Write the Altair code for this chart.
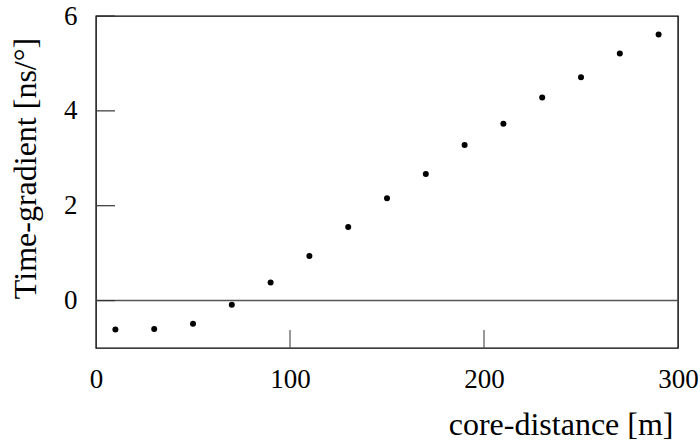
import altair as alt
import pandas as pd

core_distance = [10, 30, 50, 70, 90, 110, 130, 150, 170, 190, 210, 230, 250, 270, 290]
time_gradient = [-0.61, -0.60, -0.49, -0.09, 0.38, 0.94, 1.55, 2.16, 2.67, 3.28, 3.73, 4.28, 4.71, 5.21, 5.61]
x_ticks = [100, 200]
y_ticks = [0, 2, 4, 6]

FONT = "Liberation Serif"
W, H = 582, 332

pts = pd.DataFrame({"d": core_distance, "g": time_gradient})
xt = pd.DataFrame({"d": x_ticks})
yt = pd.DataFrame({"g": y_ticks})
zero = pd.DataFrame({"g": [0]})

xscale = alt.Scale(domain=[0, 300], nice=False, zero=False)
yscale = alt.Scale(domain=[-1, 6], nice=False, zero=False)

xaxis = alt.Axis(
    values=[0, 100, 200, 300], labelPadding=18,
    title="core-distance [m]", titleAnchor="end", titleAlign="right", titleBaseline="alphabetic",
    titleX=577, titleY=86,
)
yaxis = alt.Axis(
    values=[0, 2, 4, 6], labelPadding=19,
    title="Time-gradient [ns/°]", titleAngle=-90, titleAlign="center", titleBaseline="alphabetic",
    titleX=-61, titleY=152,
)

zero_line = alt.Chart(zero).mark_rule(color="#555555", strokeWidth=1.4).encode(
    y=alt.Y("g:Q", scale=yscale, axis=yaxis), x=alt.value(0), x2=alt.value(W)
)
xtick_marks = alt.Chart(xt).mark_rule(color="#555555", strokeWidth=1.2).encode(
    x=alt.X("d:Q", scale=xscale, axis=xaxis), y=alt.value(H), y2=alt.value(H - 18)
)
ytick_marks = alt.Chart(yt).mark_rule(color="#333333", strokeWidth=1.2).encode(
    y=alt.Y("g:Q", scale=yscale, axis=yaxis), x=alt.value(0), x2=alt.value(19)
)
points = alt.Chart(pts).mark_circle(color="black", opacity=1, size=36).encode(
    x=alt.X("d:Q", scale=xscale, axis=xaxis), y=alt.Y("g:Q", scale=yscale, axis=yaxis)
)

chart = (
    alt.layer(zero_line, xtick_marks, ytick_marks, points)
    .properties(
        width=W, height=H,
        autosize=alt.AutoSizeParams(type="none"),
        padding={"left": 96, "top": 16, "right": 22, "bottom": 99},
        background="white",
    )
    .configure_view(stroke="black", strokeWidth=1.4)
    .configure_axis(
        ticks=False, domain=False, grid=False,
        labelFont=FONT, labelFontSize=27, labelColor="black",
        labelFlush=False, labelOverlap=False,
        titleFont=FONT, titleFontSize=32, titleFontWeight="normal", titleColor="black",
    )
)

chart.save("out.html", embed_options={"renderer": "svg", "actions": False})
